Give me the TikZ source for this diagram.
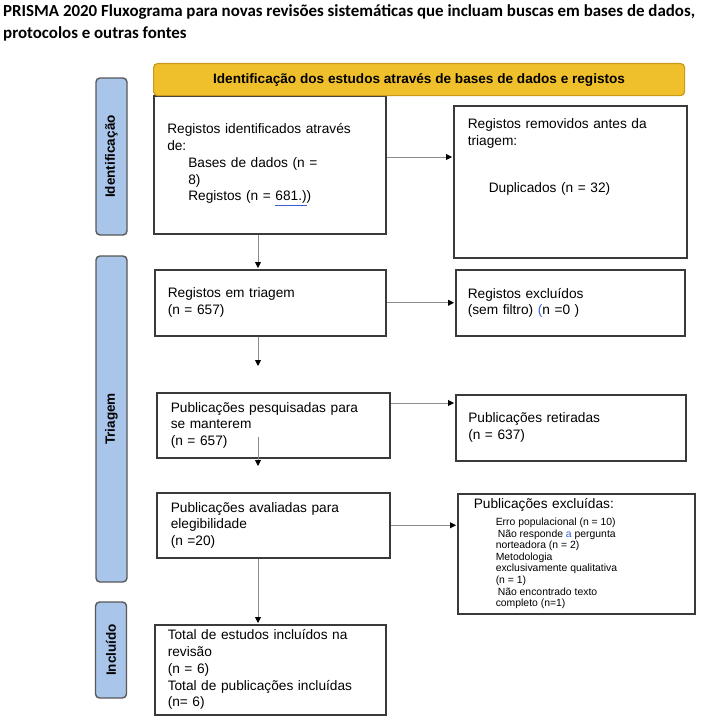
\documentclass[tikz,border=0pt]{standalone}
\usepackage{fontspec}
\setmainfont{Liberation Sans}
\newfontfamily\titlefont{Carlito}
\usepackage{xcolor}
\usepackage{tikz}
\usetikzlibrary{arrows.meta,positioning}
\definecolor{cink}{HTML}{3A3A3A}
\definecolor{cyel}{HTML}{F0BF2C}
\definecolor{cyeld}{HTML}{C99A1A}
\definecolor{cside}{HTML}{A9C5EA}
\definecolor{cline}{HTML}{8C8C8C}
\definecolor{cmark}{HTML}{3B5FD0}
\tikzset{
  box/.style={draw=cink,line width=1.5pt,fill=white,anchor=north west,align=left,
              inner xsep=13pt,inner ysep=0pt,text width=205pt,font=\fontsize{13.7}{16.7}\selectfont},
  header/.style={draw=cyeld,fill=cyel,line width=1.2pt,rounded corners=4pt,anchor=north west,
                 inner sep=0pt,font=\bfseries\fontsize{13.6}{15}\selectfont},
  sidelab/.style={draw=cink!85,line width=1.4pt,fill=cside,rounded corners=4pt,rotate=90,
                  minimum height=31pt,inner sep=0pt,font=\bfseries\fontsize{13.5}{15}\selectfont},
  arr/.style={draw=cline,line width=0.9pt,shorten >=1pt,-{Triangle[color=black,length=6pt,width=6pt]}},
}

\begin{document}
\begin{tikzpicture}[x=1pt,y=1pt]
\useasboundingbox (0,0) rectangle (704,-717);

% ================= title =================
\node[anchor=north west,align=left,inner sep=0pt,font=\titlefont\bfseries\fontsize{16.9}{22}\selectfont] (ttl) at (3,-4)
  {PRISMA 2020 Fluxograma para novas revisões sistemáticas que incluam buscas em bases de dados,\\protocolos e outras fontes};

% ================= side labels =================
\node[sidelab,minimum width=157pt] (sid) at (111.5,-156.5) {Identificação};
\node[sidelab,minimum width=326pt] (tri) at (111.5,-419) {Triagem};
\node[sidelab,minimum width=96pt] (inc) at (111,-650) {Incluído};

% ================= identification =================
\node[box,minimum width=232pt,minimum height=138pt] (box1) at (153,-95)
  {Registos identificados através\\de:\\\hspace*{21pt}Bases de dados (n =\\\hspace*{21pt}8)\\
   \hspace*{21pt}Registos (n = {\color{cmark}\underline{\color{black}681.)}})};
\node[header,minimum width=531pt,minimum height=32pt] (head) at (153,-63)
  {Identificação dos estudos através de bases de dados e registos};
\node[box,inner xsep=14pt,minimum width=232pt,minimum height=152pt] (rbox1) at (453,-105)
  {Registos removidos antes da\\triagem:\\[30pt]\hspace*{21pt}Duplicados (n = 32)\\[36pt]\mbox{}};

% ================= screening =================
\node[box,minimum width=231pt,minimum height=66pt] (box2) at (154,-269)
  {Registos em triagem\\(n = 657)};
\node[box,inner xsep=12pt,minimum width=229pt,minimum height=66pt] (rbox2) at (455,-269)
  {Registos excluídos\\(sem filtro) {\color{cmark}(}n =0 )};

\node[box,inner xsep=14pt,minimum width=232pt,minimum height=65pt] (box3) at (156,-392)
  {Publicações pesquisadas para\\se manterem\\(n = 657)};
\node[box,inner xsep=12pt,minimum width=230pt,minimum height=66pt] (rbox3) at (455,-394)
  {Publicações retiradas\\(n = 637)};

\node[box,inner xsep=14pt,minimum width=231pt,minimum height=65pt] (box4) at (156,-492)
  {Publicações avaliadas para\\elegibilidade\\(n =20)};
\node[box,inner xsep=16pt,minimum width=231pt,minimum height=120pt] (rbox4) at (457,-493)
  {Publicações excluídas:\\\hspace*{22pt}\parbox[t]{170pt}{\raggedright\spaceskip=0pt\xspaceskip=0pt
   \fontsize{10.4}{11.6}\selectfont
   Erro populacional (n = 10)\\
   \hspace*{2pt}Não responde {\color{cmark}a} pergunta\\
   norteadora (n = 2)\\
   Metodologia\\
   exclusivamente qualitativa\\
   (n = 1)\\
   \hspace*{2pt}Não encontrado texto\\
   completo (n=1)}};

% ================= included =================
\node[box,inner xsep=12pt,minimum width=231pt,minimum height=90pt] (box5) at (154,-624)
  {Total de estudos incluídos na\\revisão\\(n = 6)\\Total de publicações incluídas\\(n= 6)};

% ================= arrows =================
\coordinate (gap1) at (258,-367);
\coordinate (gap2) at (258,-467);
\draw[arr] ([xshift=105pt]box1.south west) -- ([xshift=104pt]box2.north west);
\draw[arr] ([xshift=104pt]box2.south west) -- (gap1);
\draw[arr] ([xshift=102pt,yshift=22pt]box3.south west) -- (gap2);
\draw[arr] ([xshift=102pt]box4.south west) -- ([xshift=104pt]box5.north west);

\draw[arr] ([yshift=-62pt]box1.north east) -- ([yshift=-52pt]rbox1.north west);
\draw[arr] (box2.east) -- (rbox2.west);
\draw[arr] ([yshift=-11pt]box3.north east) -- ([yshift=-9pt]rbox3.north west);
\draw[arr] (box4.east) -- (rbox4.west |- box4.east);

\end{tikzpicture}
\end{document}
